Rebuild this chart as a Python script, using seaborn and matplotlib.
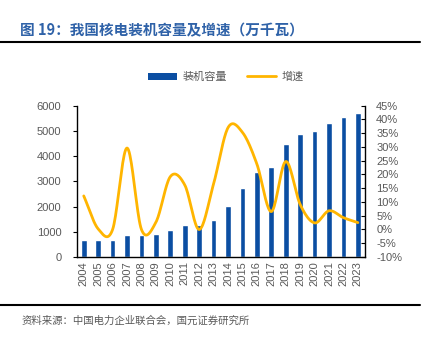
import numpy as np
import pandas as pd
import matplotlib
matplotlib.use("Agg")
import matplotlib.pyplot as plt
import seaborn as sns
from matplotlib.patches import Patch
from matplotlib.lines import Line2D

years = [str(y) for y in range(2004, 2024)]
capacity = [684, 685, 685, 885, 885, 908, 1082, 1257, 1257, 1466,
            2008, 2717, 3364, 3582, 4466, 4874, 4989, 5326, 5553, 5691]
growth = [12.2, 0.2, 0.0, 29.6, 0.0, 2.6, 19.2, 16.2, 0.0, 16.6,
          37.0, 35.3, 23.8, 6.5, 24.7, 9.1, 2.4, 6.8, 4.3, 2.5]

BLUE = "#0B4EA2"
GOLD = "#FFB500"
GREY = "#595959"
CJK = ["Noto Sans CJK SC", "DejaVu Sans"]

sns.set_style("white")
plt.rcParams["font.family"] = ["Liberation Sans", "Noto Sans CJK SC", "DejaVu Sans"]


def catmull_rom(x, y, n=20):
    x = np.asarray(x, float)
    y = np.asarray(y, float)
    px = np.concatenate([[2 * x[0] - x[1]], x, [2 * x[-1] - x[-2]]])
    py = np.concatenate([[2 * y[0] - y[1]], y, [2 * y[-1] - y[-2]]])
    xs, ys = [], []
    for i in range(1, len(px) - 2):
        t = np.linspace(0, 1, n, endpoint=False)
        for p, out in ((px, xs), (py, ys)):
            p0, p1, p2, p3 = p[i - 1], p[i], p[i + 1], p[i + 2]
            out.extend(0.5 * ((2 * p1) + (-p0 + p2) * t
                              + (2 * p0 - 5 * p1 + 4 * p2 - p3) * t ** 2
                              + (-p0 + 3 * p1 - 3 * p2 + p3) * t ** 3))
    xs.append(x[-1])
    ys.append(y[-1])
    return np.array(xs), np.array(ys)


df = pd.DataFrame({"year": years, "capacity": capacity, "growth": growth})

fig = plt.figure(figsize=(4.3, 3.43), dpi=100)
ax = fig.add_axes([0.178, 0.2507, 0.671, 0.4413])
sns.barplot(data=df, x="year", y="capacity", color=BLUE, width=0.4,
            saturation=1, ax=ax)
ax.set_xlim(-0.5, len(years) - 0.5)
ax.set_ylim(0, 6000)
ax.set_yticks(range(0, 6001, 1000))
ax.set_xlabel("")
ax.set_ylabel("")
ax.tick_params(axis="y", direction="out", length=3, width=0.8, colors="black",
               labelcolor=GREY, labelsize=8, pad=8)
ax.tick_params(axis="x", which="major", length=0, labelcolor=GREY,
               labelsize=8, labelrotation=90, pad=3)
ax.set_xticks(np.arange(-0.5, len(years), 1.0), minor=True)
ax.tick_params(axis="x", which="minor", direction="in", length=3, width=0.8,
               colors="black")
for s in ["left", "bottom"]:
    ax.spines[s].set_color("black")
    ax.spines[s].set_linewidth(1.0)
ax.spines["top"].set_visible(False)
ax.spines["right"].set_visible(False)

ax2 = ax.twinx()
xs, ys = catmull_rom(np.arange(len(growth)), df["growth"].values)
ax2.plot(xs, ys, color=GOLD, lw=2.0, solid_capstyle="round")
ax2.set_ylim(-10, 45)
ax2.set_yticks(range(-10, 46, 5))
ax2.set_yticklabels([f"{v}%" for v in range(-10, 46, 5)])
ax2.tick_params(axis="y", direction="in", length=3, width=0.8, colors="black",
                labelcolor=GREY, labelsize=8, pad=8)
ax2.spines["right"].set_color("black")
ax2.spines["right"].set_linewidth(1.0)
ax2.spines["top"].set_visible(False)
ax2.spines["left"].set_visible(False)
ax2.spines["bottom"].set_visible(False)
ax2.set_ylabel("")

handles = [Patch(facecolor=BLUE, edgecolor="none"),
           Line2D([0], [0], color=GOLD, lw=2)]
fig.legend(handles, ["装机容量", "增速"], loc="center",
           bbox_to_anchor=(0.525, 0.776), ncol=2, frameon=False,
           prop={"family": CJK, "size": 8}, labelcolor=GREY,
           handlelength=2.6, handleheight=0.6, columnspacing=1.8,
           handletextpad=0.5)

fig.text(0.047, 0.912, "图 19：我国核电装机容量及增速（万千瓦）",
         family=CJK, fontsize=10.5, fontweight="bold", color="#2F62A8",
         va="center", ha="left")
fig.add_artist(Line2D([0.0, 0.977], [1 - 42 / 343, 1 - 42 / 343],
                      color="black", lw=1.5, transform=fig.transFigure))
fig.add_artist(Line2D([0.0, 0.977], [1 - 304.5 / 343, 1 - 304.5 / 343],
                      color="black", lw=1.5, transform=fig.transFigure))
fig.text(0.05, 1 - 321 / 343, "资料来源：中国电力企业联合会，国元证券研究所",
         family=CJK, fontsize=7.5, color=GREY, va="center", ha="left")

fig.savefig("out.png", dpi=100)
